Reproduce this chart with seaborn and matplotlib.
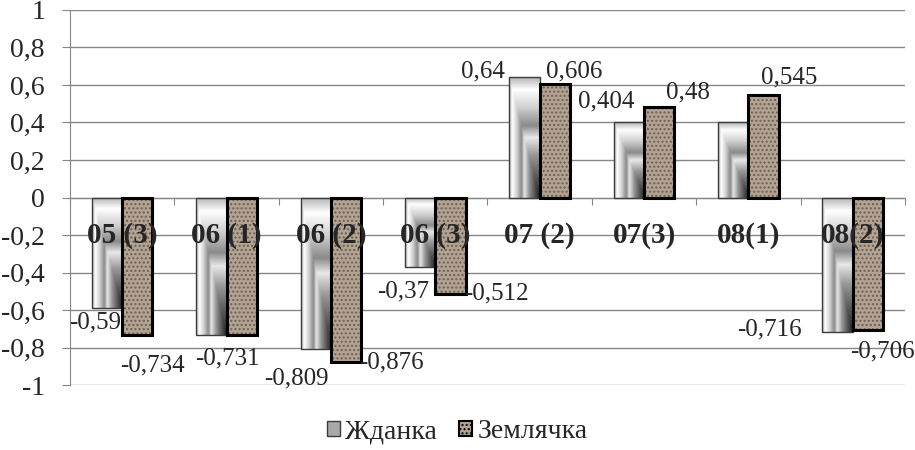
import numpy as np
import pandas as pd
import seaborn as sns
import matplotlib.pyplot as plt
from matplotlib.colors import LinearSegmentedColormap
from matplotlib.patches import Patch, Rectangle
from matplotlib.ticker import FuncFormatter

categories = ['05 (3)', '06 (1)', '06 (2)', '06 (3)', '07 (2)', '07(3)', '08(1)', '08(2)']
series = ['Жданка', 'Землячка']
zhdanka = [-0.59, -0.731, -0.809, -0.37, 0.64, 0.404, 0.404, -0.716]
zemlyachka = [-0.734, -0.731, -0.876, -0.512, 0.606, 0.48, 0.545, -0.706]

# where the value labels sit: (series index, category index, x offset, y)
label_layout = [
    (0, 0, -0.26, -0.668), (0, 1, 0.01, -0.856), (0, 2, -0.33, -0.963),
    (0, 3, -0.31, -0.50), (0, 4, -0.54, 0.674), (0, 5, -0.36, 0.513),
    (0, 7, -0.80, -0.706),
    (1, 0, 0.29, -0.893), (1, 2, 0.58, -0.882), (1, 3, 0.59, -0.51),
    (1, 4, 0.33, 0.674), (1, 5, 0.42, 0.56), (1, 6, 0.39, 0.64),
    (1, 7, 0.28, -0.82),
]


def fmt(v):
    v = round(v, 3)
    if abs(v) < 1e-9:
        v = 0
    return f'{v:g}'.replace('.', ',')


df = pd.DataFrame({
    'cat': categories * 2,
    'series': [series[0]] * len(categories) + [series[1]] * len(categories),
    'value': zhdanka + zemlyachka,
})

sns.set_style('white')
plt.rcParams['font.family'] = ['Liberation Serif', 'DejaVu Serif']
grey = '#868686'
tan = '#b3a393'

fig = plt.figure(figsize=(9.15, 4.5), dpi=100)
ax = fig.add_axes([0.0765, 0.1444, 0.9125, 0.8334])

sns.barplot(data=df, x='cat', y='value', hue='series', hue_order=series,
            palette=['#b0b0b0', tan], width=0.58, ax=ax, legend=False, zorder=3)

cmap = LinearSegmentedColormap.from_list('zh', [
    (0.0, '#b4b4b4'), (0.1, '#ffffff'), (0.25, '#d0d0d0'), (0.4, '#8a8a8a'),
    (0.5, '#e8e8e8'), (0.65, '#969696'), (0.82, '#5a5a5a'), (1.0, '#1e1e1e')])
xx, yy = np.meshgrid(np.linspace(0, 1, 60), np.linspace(0, 1, 200))
grad = np.minimum(xx, yy)

for p in ax.containers[0]:
    x0, y0 = p.get_x(), p.get_y()
    w, h = p.get_width(), p.get_height()
    top, bot = max(y0, y0 + h), min(y0, y0 + h)
    p.set_facecolor('none')
    p.set_edgecolor('#3c3c3c')
    p.set_linewidth(1.0)
    im = ax.imshow(grad, cmap=cmap, extent=[x0, x0 + w, bot, top], origin='upper',
                   aspect='auto', zorder=2.5, interpolation='bilinear')
    im.set_clip_path(p)

for p in ax.containers[1]:
    x0, y0 = p.get_x(), p.get_y()
    w, h = p.get_width(), p.get_height()
    ax.add_patch(Rectangle((x0, y0), w, h, facecolor=tan, edgecolor='#6f5f51',
                           hatch='....', linewidth=0, zorder=2.8))
    p.set_facecolor('none')
    p.set_edgecolor('black')
    p.set_linewidth(2.2)

ax.set_xlim(-0.5, len(categories) - 0.5)
ax.set_ylim(-1, 1)
ax.set_yticks(np.arange(-1, 1.01, 0.2))
ax.yaxis.set_major_formatter(FuncFormatter(lambda v, _: fmt(v)))
ax.set_xticks(np.arange(-0.5, len(categories), 1))
ax.set_xticklabels([])
ax.set_xlabel('')
ax.set_ylabel('')
ax.grid(axis='y', color=grey, linewidth=1, zorder=0)
ax.set_axisbelow(True)
for s in ['top', 'right']:
    ax.spines[s].set_visible(False)
ax.spines['left'].set_color(grey)
ax.spines['bottom'].set_color(grey)
ax.spines['bottom'].set_position(('data', 0))
ax.tick_params(axis='y', length=6, color=grey, labelsize=20, pad=12, left=True)
ax.tick_params(axis='x', length=5, color=grey, direction='out', bottom=True)

for i, c in enumerate(categories):
    ax.text(i, -0.2, c, ha='center', va='center', fontsize=21, fontweight='bold', zorder=6)

values = [zhdanka, zemlyachka]
for s, i, dx, y in label_layout:
    ax.text(i + dx, y, fmt(values[s][i]), ha='center', va='center', fontsize=18, zorder=6)

handles = [Patch(facecolor='#a8a8a8', edgecolor='#3c3c3c', label=series[0]),
           Patch(facecolor=tan, edgecolor='black', hatch='....', linewidth=1.5, label=series[1])]
fig.legend(handles=handles, loc='center', bbox_to_anchor=(0.5, 0.04), ncol=2,
           frameon=False, fontsize=20, handlelength=0.45, handleheight=0.45,
           handletextpad=0.2, columnspacing=0.8)

fig.savefig('out.png', dpi=100)
